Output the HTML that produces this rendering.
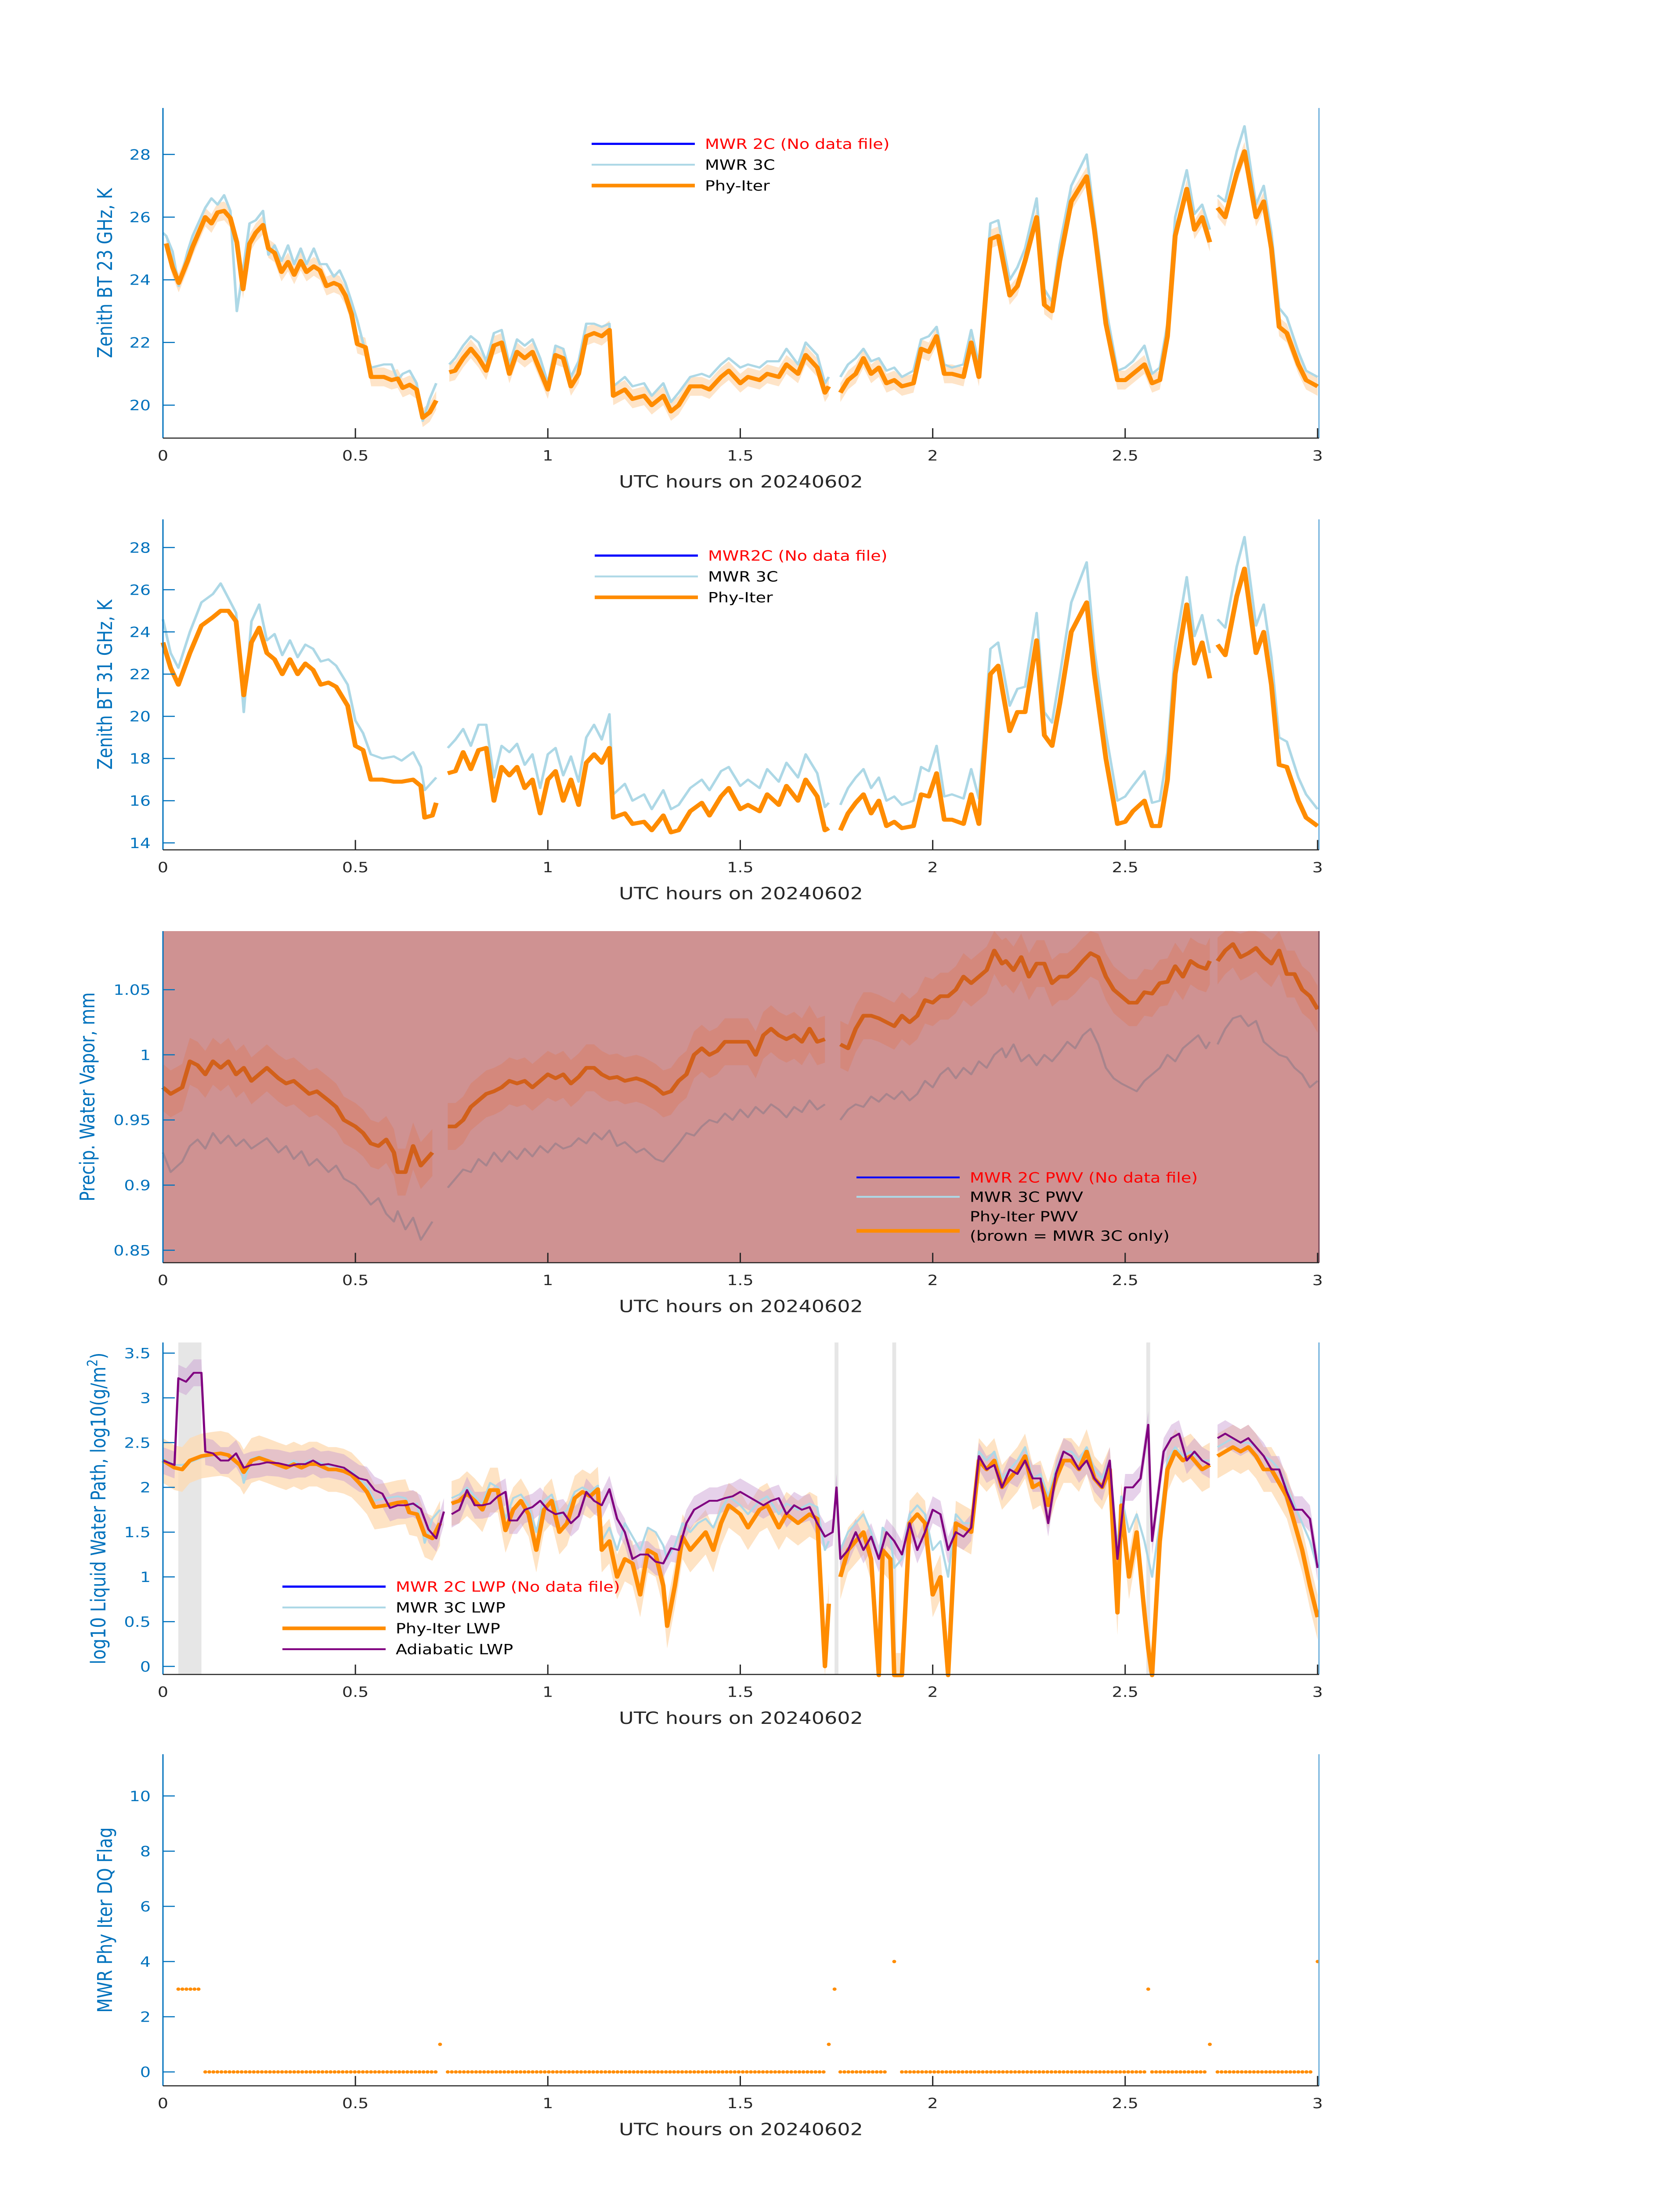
<!DOCTYPE html>
<html><head><meta charset="utf-8"><title>MWR zenith BT, PWV, LWP and DQ flag vs UTC hours, 20240602</title>
<style>html,body{margin:0;padding:0;background:#fff;overflow:hidden}svg{display:block;width:100vw;height:100vh}text{font-family:"DejaVu Sans","Liberation Sans",sans-serif}</style>
</head><body>
<svg id="fig" xmlns="http://www.w3.org/2000/svg" viewBox="0 0 3825 6000" preserveAspectRatio="none"></svg>
<script>
// ---------- Panel 1 : 23 GHz ----------
const t23 = [0.0,0.0085,0.025,0.041,0.064,0.077,0.11,0.126,0.142,0.159,0.175,0.192,0.208,0.225,0.241,0.26,0.274,0.29,0.308,0.325,0.341,0.358,0.373,0.392,0.408,0.425,0.444,0.459,0.474,0.49,0.505,0.526,0.541,0.574,0.594,0.61,0.623,0.641,0.659,0.675,0.693,0.71,0.725,0.744,0.759,0.78,0.8,0.82,0.84,0.86,0.88,0.9,0.92,0.94,0.96,0.98,1.0,1.02,1.04,1.06,1.08,1.1,1.12,1.14,1.16,1.17,1.2,1.22,1.25,1.27,1.3,1.32,1.34,1.37,1.4,1.42,1.45,1.47,1.5,1.52,1.55,1.57,1.6,1.62,1.65,1.67,1.7,1.72,1.73,1.745,1.76,1.78,1.8,1.82,1.84,1.86,1.88,1.9,1.92,1.95,1.97,1.99,2.01,2.03,2.05,2.08,2.1,2.12,2.15,2.17,2.2,2.22,2.24,2.27,2.29,2.31,2.33,2.36,2.4,2.42,2.45,2.48,2.5,2.52,2.55,2.57,2.59,2.61,2.63,2.66,2.68,2.7,2.72,2.73,2.74,2.76,2.79,2.81,2.84,2.86,2.88,2.9,2.92,2.95,2.97,3.0];
const phy23 = [null,25.16,24.4,23.9,24.6,25.05,26.0,25.8,26.15,26.2,25.97,25.2,23.7,25.15,25.5,25.75,25.0,24.86,24.25,24.57,24.16,24.6,24.25,24.43,24.3,23.8,23.9,23.82,23.5,22.9,21.95,21.85,20.9,20.9,20.8,20.85,20.55,20.65,20.5,19.6,19.77,20.15,null,21.05,21.1,21.5,21.8,21.5,21.1,21.9,22.0,21.0,21.7,21.5,21.7,21.1,20.5,21.6,21.5,20.6,21.0,22.2,22.3,22.2,22.4,20.3,20.5,20.2,20.3,20.0,20.3,19.8,20.0,20.6,20.6,20.5,20.9,21.1,20.7,20.9,20.8,21.0,20.9,21.3,21.0,21.6,21.2,20.4,20.6,null,20.4,20.8,21.0,21.5,21.0,21.2,20.7,20.8,20.6,20.7,21.8,21.7,22.2,21.0,21.0,20.9,22.0,20.9,25.3,25.4,23.5,23.8,24.6,26.0,23.2,23.0,24.6,26.5,27.3,25.6,22.6,20.8,20.8,21.0,21.3,20.7,20.8,22.2,25.4,26.9,25.6,26.0,25.2,null,26.3,26.0,27.4,28.1,26.0,26.5,25.0,22.5,22.3,21.3,20.8,20.6];
const mwr23 = [25.5,25.4,24.9,23.8,24.9,25.4,26.3,26.6,26.4,26.7,26.2,23.0,24.3,25.8,25.9,26.2,24.8,25.1,24.6,25.1,24.5,25.0,24.5,25.0,24.5,24.5,24.1,24.3,23.9,23.3,22.7,21.7,21.2,21.3,21.3,20.8,21.0,21.1,20.7,19.5,20.2,20.7,null,21.3,21.5,21.9,22.2,22.0,21.4,22.3,22.4,21.3,22.1,21.9,22.1,21.5,20.7,21.9,21.8,20.9,21.4,22.6,22.6,22.5,22.6,20.6,20.9,20.6,20.7,20.3,20.7,20.1,20.4,20.9,21.0,20.9,21.3,21.5,21.2,21.3,21.2,21.4,21.4,21.8,21.3,22.0,21.6,20.7,20.9,null,20.9,21.3,21.5,21.8,21.4,21.5,21.1,21.2,20.9,21.1,22.1,22.2,22.5,21.3,21.2,21.3,22.4,21.3,25.8,25.9,24.0,24.4,25.0,26.6,23.7,23.3,25.1,27.0,28.0,26.0,23.1,21.1,21.2,21.4,21.9,21.0,21.2,22.6,26.0,27.5,26.1,26.4,25.6,null,26.7,26.5,28.1,28.9,26.4,27.0,25.5,23.1,22.8,21.7,21.1,20.9];
const tick23 = [20,22,24,26,28];
// ---------- Panel 2 : 31 GHz ----------
const t31 = [0.0,0.02,0.04,0.07,0.1,0.13,0.15,0.17,0.19,0.21,0.23,0.25,0.27,0.29,0.31,0.33,0.35,0.37,0.39,0.41,0.43,0.45,0.48,0.5,0.52,0.54,0.57,0.6,0.62,0.65,0.67,0.68,0.7,0.71,0.725,0.74,0.76,0.78,0.8,0.82,0.84,0.86,0.88,0.9,0.92,0.94,0.96,0.98,1.0,1.02,1.04,1.06,1.08,1.1,1.12,1.14,1.16,1.17,1.2,1.22,1.25,1.27,1.3,1.32,1.34,1.37,1.4,1.42,1.45,1.47,1.5,1.52,1.55,1.57,1.6,1.62,1.65,1.67,1.7,1.72,1.73,1.745,1.76,1.78,1.8,1.82,1.84,1.86,1.88,1.9,1.92,1.95,1.97,1.99,2.01,2.03,2.05,2.08,2.1,2.12,2.15,2.17,2.2,2.22,2.24,2.27,2.29,2.31,2.33,2.36,2.4,2.42,2.45,2.48,2.5,2.52,2.55,2.57,2.59,2.61,2.63,2.66,2.68,2.7,2.72,2.73,2.74,2.76,2.79,2.81,2.84,2.86,2.88,2.9,2.92,2.95,2.97,3.0];
const phy31 = [23.5,22.3,21.5,23.0,24.3,24.7,25.0,25.0,24.5,21.0,23.5,24.2,23.0,22.7,22.0,22.7,22.0,22.5,22.2,21.5,21.6,21.4,20.5,18.6,18.4,17.0,17.0,16.9,16.9,17.0,16.7,15.2,15.3,15.9,null,17.3,17.4,18.3,17.5,18.4,18.5,16.0,17.6,17.2,17.6,16.6,17.0,15.4,17.0,17.4,16.0,17.0,15.8,17.8,18.2,17.8,18.5,15.2,15.4,14.9,15.0,14.6,15.3,14.5,14.6,15.5,15.9,15.3,16.2,16.6,15.6,15.8,15.5,16.3,15.8,16.7,16.0,17.0,16.2,14.6,14.7,null,14.6,15.4,15.9,16.3,15.4,16.0,14.8,15.0,14.7,14.8,16.3,16.2,17.3,15.1,15.1,14.9,16.3,14.9,22.0,22.4,19.3,20.2,20.2,23.6,19.1,18.6,20.6,24.0,25.4,22.0,18.0,14.9,15.0,15.5,16.0,14.8,14.8,17.0,22.0,25.3,22.5,23.5,21.8,null,23.4,22.9,25.7,27.0,23.0,24.0,21.5,17.7,17.6,16.0,15.2,14.8];
const mwr31 = [24.6,23.0,22.3,24.0,25.4,25.8,26.3,25.6,24.9,20.2,24.5,25.3,23.6,23.9,22.9,23.6,22.8,23.4,23.2,22.6,22.7,22.4,21.5,19.8,19.2,18.2,18.0,18.1,17.9,18.3,17.6,16.5,16.9,17.1,null,18.5,18.9,19.4,18.6,19.6,19.6,17.1,18.6,18.3,18.7,17.7,18.2,16.6,18.2,18.5,17.2,18.1,16.9,19.0,19.6,18.9,20.1,16.3,16.8,16.0,16.3,15.6,16.5,15.6,15.8,16.6,17.0,16.5,17.4,17.6,16.7,17.0,16.6,17.5,16.9,17.8,17.1,18.2,17.3,15.7,15.9,null,15.8,16.6,17.1,17.5,16.6,17.1,16.0,16.2,15.8,16.0,17.6,17.4,18.6,16.2,16.3,16.1,17.5,16.1,23.2,23.5,20.5,21.3,21.4,24.9,20.2,19.7,21.9,25.4,27.3,23.2,19.2,16.0,16.2,16.7,17.4,15.9,16.0,18.3,23.3,26.6,23.8,24.8,23.0,null,24.6,24.2,27.1,28.5,24.3,25.3,22.8,19.0,18.8,17.1,16.3,15.6];
const tick31 = [14,16,18,20,22,24,26,28];
// ---------- Panel 3 : PWV ----------
const tPwv = [0,0.02,0.05,0.07,0.09,0.11,0.13,0.15,0.17,0.19,0.21,0.23,0.25,0.27,0.3,0.32,0.34,0.36,0.38,0.4,0.43,0.45,0.47,0.5,0.52,0.54,0.56,0.58,0.6,0.61,0.63,0.65,0.67,0.7,0.72,0.74,0.76,0.78,0.8,0.82,0.84,0.86,0.88,0.9,0.92,0.94,0.96,0.98,1.0,1.02,1.04,1.06,1.08,1.1,1.12,1.14,1.16,1.18,1.2,1.23,1.25,1.28,1.3,1.32,1.34,1.36,1.38,1.4,1.42,1.44,1.46,1.48,1.5,1.52,1.54,1.56,1.58,1.6,1.62,1.64,1.66,1.68,1.7,1.72,1.74,1.76,1.78,1.8,1.82,1.84,1.86,1.88,1.9,1.92,1.94,1.96,1.98,2.0,2.02,2.04,2.06,2.08,2.1,2.12,2.14,2.16,2.18,2.19,2.21,2.23,2.25,2.27,2.29,2.31,2.33,2.35,2.37,2.39,2.41,2.43,2.45,2.47,2.49,2.51,2.53,2.55,2.57,2.59,2.61,2.63,2.65,2.67,2.69,2.71,2.72,2.73,2.74,2.76,2.78,2.8,2.82,2.84,2.86,2.88,2.9,2.92,2.94,2.96,2.98,3.0];
const phyPwv = [0.975,0.97,0.975,0.995,0.992,0.985,0.995,0.99,0.995,0.985,0.99,0.98,0.985,0.99,0.982,0.978,0.98,0.975,0.97,0.972,0.965,0.96,0.95,0.945,0.94,0.932,0.93,0.935,0.925,0.91,0.91,0.93,0.915,0.925,null,0.945,0.945,0.95,0.96,0.965,0.97,0.972,0.975,0.98,0.978,0.98,0.975,0.98,0.985,0.982,0.985,0.978,0.983,0.99,0.99,0.985,0.982,0.983,0.98,0.982,0.98,0.975,0.97,0.972,0.98,0.985,1.0,1.005,1.0,1.003,1.01,1.01,1.01,1.01,1.0,1.015,1.02,1.015,1.012,1.015,1.01,1.02,1.01,1.012,null,1.008,1.005,1.02,1.03,1.03,1.028,1.025,1.022,1.03,1.025,1.03,1.042,1.04,1.045,1.045,1.05,1.06,1.055,1.06,1.065,1.08,1.07,1.072,1.065,1.075,1.06,1.07,1.07,1.055,1.06,1.06,1.065,1.072,1.078,1.075,1.06,1.05,1.045,1.04,1.04,1.048,1.047,1.055,1.056,1.068,1.06,1.072,1.068,1.066,1.072,null,1.072,1.08,1.085,1.075,1.078,1.082,1.075,1.07,1.08,1.062,1.062,1.05,1.045,1.035];
const mwrPwv = [0.925,0.91,0.918,0.93,0.935,0.928,0.94,0.932,0.938,0.93,0.935,0.928,0.932,0.936,0.925,0.93,0.92,0.926,0.915,0.92,0.91,0.915,0.905,0.9,0.893,0.885,0.89,0.878,0.872,0.88,0.866,0.875,0.858,0.872,null,0.898,0.905,0.912,0.91,0.92,0.915,0.925,0.918,0.926,0.92,0.928,0.922,0.93,0.925,0.932,0.928,0.93,0.936,0.932,0.94,0.935,0.942,0.93,0.933,0.925,0.928,0.92,0.918,0.925,0.932,0.94,0.938,0.945,0.95,0.948,0.955,0.95,0.958,0.952,0.96,0.955,0.962,0.958,0.952,0.96,0.956,0.965,0.958,0.962,null,0.95,0.958,0.962,0.96,0.968,0.964,0.97,0.966,0.972,0.965,0.97,0.98,0.975,0.985,0.99,0.982,0.99,0.985,0.995,0.99,1.0,1.005,0.998,1.008,0.995,1.0,0.992,1.0,0.995,1.002,1.01,1.005,1.015,1.02,1.008,0.99,0.982,0.978,0.975,0.972,0.98,0.985,0.99,1.0,0.995,1.005,1.01,1.015,1.005,1.01,null,1.008,1.02,1.028,1.03,1.022,1.026,1.01,1.005,1.0,0.998,0.99,0.985,0.975,0.98];
const tickPwv = [0.85,0.9,0.95,1,1.05];
// ---------- Panel 4 : LWP ----------
const tAdi = [0,0.03,0.04,0.06,0.08,0.1,0.11,0.13,0.15,0.17,0.19,0.21,0.23,0.25,0.27,0.3,0.33,0.35,0.37,0.39,0.41,0.43,0.45,0.47,0.49,0.51,0.53,0.55,0.57,0.59,0.61,0.63,0.65,0.67,0.69,0.71,0.73,0.74,0.75,0.77,0.79,0.81,0.83,0.85,0.87,0.89,0.9,0.92,0.94,0.96,0.98,1.0,1.02,1.04,1.06,1.08,1.1,1.12,1.14,1.16,1.18,1.2,1.22,1.24,1.26,1.28,1.3,1.32,1.34,1.36,1.38,1.4,1.42,1.44,1.46,1.48,1.5,1.52,1.54,1.56,1.58,1.6,1.62,1.64,1.66,1.68,1.7,1.72,1.74,1.75,1.76,1.78,1.8,1.82,1.84,1.86,1.88,1.9,1.92,1.94,1.96,1.98,2.0,2.02,2.04,2.06,2.08,2.1,2.12,2.14,2.16,2.18,2.2,2.22,2.24,2.26,2.28,2.3,2.32,2.34,2.36,2.38,2.4,2.42,2.44,2.46,2.48,2.5,2.52,2.54,2.56,2.57,2.6,2.62,2.64,2.66,2.68,2.7,2.72,2.73,2.74,2.76,2.78,2.8,2.82,2.84,2.86,2.88,2.9,2.92,2.94,2.96,2.98,3.0];
const adiLwp = [2.3,2.25,3.22,3.18,3.28,3.28,2.4,2.38,2.3,2.3,2.38,2.22,2.25,2.26,2.28,2.27,2.24,2.26,2.26,2.3,2.25,2.26,2.24,2.22,2.16,2.1,2.08,1.97,1.93,1.77,1.8,1.8,1.82,1.76,1.53,1.43,1.73,null,1.7,1.75,1.97,1.8,1.8,1.82,1.9,1.95,1.63,1.63,1.75,1.78,1.85,1.75,1.7,1.72,1.6,1.68,1.95,1.85,1.8,1.98,1.65,1.5,1.2,1.25,1.25,1.17,1.15,1.32,1.3,1.6,1.75,1.8,1.85,1.85,1.88,1.9,1.95,1.9,1.85,1.8,1.85,1.88,1.7,1.8,1.75,1.78,1.6,1.45,1.5,2.0,1.2,1.3,1.5,1.3,1.45,1.2,1.5,1.4,1.25,1.6,1.3,1.5,1.75,1.7,1.3,1.5,1.45,1.55,2.35,2.2,2.25,2.0,2.2,2.15,2.3,2.1,2.1,1.6,2.15,2.4,2.35,2.2,2.3,2.1,2.0,2.3,1.2,2.0,2.0,2.1,2.7,1.4,2.4,2.55,2.6,2.3,2.4,2.3,2.25,null,2.55,2.6,2.55,2.5,2.55,2.45,2.35,2.2,2.2,1.95,1.75,1.75,1.65,1.1];
const tPhyL = [0,0.03,0.05,0.07,0.1,0.13,0.15,0.17,0.2,0.21,0.23,0.25,0.27,0.3,0.32,0.34,0.36,0.38,0.4,0.43,0.45,0.47,0.49,0.51,0.53,0.55,0.58,0.61,0.63,0.64,0.66,0.68,0.7,0.72,0.735,0.75,0.77,0.79,0.81,0.83,0.85,0.87,0.89,0.91,0.93,0.95,0.97,0.99,1.01,1.03,1.05,1.07,1.09,1.11,1.13,1.14,1.16,1.18,1.2,1.22,1.24,1.26,1.28,1.3,1.31,1.33,1.35,1.37,1.39,1.41,1.43,1.45,1.47,1.5,1.52,1.55,1.57,1.6,1.62,1.65,1.68,1.7,1.72,1.73,1.745,1.76,1.78,1.8,1.82,1.84,1.86,1.87,1.89,1.9,1.92,1.94,1.96,1.98,2.0,2.02,2.04,2.06,2.08,2.1,2.12,2.14,2.16,2.18,2.2,2.22,2.24,2.26,2.28,2.3,2.32,2.34,2.36,2.38,2.4,2.42,2.44,2.46,2.48,2.49,2.51,2.53,2.55,2.56,2.57,2.59,2.61,2.63,2.65,2.67,2.7,2.72,2.73,2.74,2.76,2.78,2.8,2.82,2.84,2.86,2.88,2.9,2.92,2.94,2.96,2.98,3.0];
const phyLwp = [2.3,2.22,2.2,2.3,2.35,2.37,2.38,2.36,2.25,2.17,2.3,2.33,2.3,2.25,2.22,2.26,2.22,2.26,2.26,2.2,2.2,2.18,2.14,2.05,1.95,1.78,1.8,1.83,1.84,1.72,1.7,1.47,1.43,1.6,null,1.82,1.85,1.93,1.85,1.75,1.97,1.97,1.52,1.75,1.85,1.7,1.3,1.75,1.85,1.5,1.6,1.88,1.95,1.9,1.98,1.3,1.4,1.0,1.2,1.15,0.8,1.3,1.25,0.9,0.45,0.9,1.45,1.3,1.4,1.5,1.3,1.6,1.8,1.7,1.55,1.75,1.8,1.55,1.7,1.6,1.7,1.65,0.0,0.7,null,1.0,1.3,1.4,1.5,1.2,-0.1,1.3,1.2,-0.1,-0.1,1.6,1.7,1.6,0.8,1.0,-0.1,1.6,1.55,1.5,2.3,2.2,2.3,2.0,2.1,2.2,2.35,2.0,2.05,1.8,2.1,2.3,2.3,2.2,2.4,2.1,2.0,2.2,0.6,1.8,1.0,1.5,0.6,0.2,-0.1,1.4,2.2,2.4,2.3,2.35,2.2,2.25,null,2.35,2.4,2.45,2.4,2.45,2.35,2.2,2.2,2.05,1.9,1.6,1.3,0.9,0.55];
const mwrLwp = [2.32,2.25,2.25,2.28,2.33,2.36,2.37,2.36,2.26,2.05,2.32,2.35,2.3,2.27,2.24,2.3,2.25,2.3,2.29,2.24,2.24,2.2,2.18,2.1,2.02,1.85,1.88,1.9,1.88,1.8,1.82,1.38,1.65,1.75,null,1.88,1.92,2.0,1.9,1.82,2.05,2.0,1.65,1.88,1.92,1.8,1.5,1.85,1.92,1.68,1.75,1.95,2.0,1.95,2.02,1.4,1.55,1.3,1.6,1.45,1.3,1.55,1.5,1.35,1.2,1.35,1.6,1.5,1.6,1.65,1.55,1.75,1.9,1.8,1.7,1.85,1.9,1.7,1.82,1.75,1.82,1.78,1.3,1.4,null,1.3,1.5,1.6,1.7,1.5,1.2,1.55,1.45,1.1,1.2,1.7,1.8,1.7,1.3,1.4,1.0,1.7,1.6,1.6,2.4,2.3,2.4,2.1,2.2,2.3,2.45,2.1,2.15,1.9,2.2,2.4,2.4,2.3,2.45,2.2,2.1,2.3,1.3,1.9,1.5,1.7,1.4,1.2,1.0,1.6,2.3,2.45,2.35,2.4,2.3,2.3,null,2.45,2.5,2.55,2.5,2.5,2.45,2.35,2.3,2.2,2.0,1.8,1.6,1.4,1.1];
const grayStart = [0.04,1.745,1.895,2.555];
const grayEnd = [0.1,1.755,1.905,2.565];
const tickLwp = [0,0.5,1,1.5,2,2.5,3,3.5];
// ---------- Panel 5 : DQ flag ----------
const flagStart = [0.04,0.11,0.72,0.74,1.73,1.745,1.76,1.9,1.92,2.56,2.57,2.72,2.74,3.0];
const flagEnd   = [0.1,0.71,0.72,1.72,1.73,1.745,1.88,1.9,2.55,2.56,2.71,2.72,2.99,3.0];
const flagValue = [3,0,1,0,1,3,0,4,0,3,0,1,0,4];
const tickFlag = [0,2,4,6,8,10];
const xTicks = [0,0.5,1,1.5,2,2.5,3];
const xTickLabels = ['0','0.5','1','1.5','2','2.5','3'];

const NS='http://www.w3.org/2000/svg';
const svg=document.getElementById('fig');
function mk(tag,attrs,parent){const e=document.createElementNS(NS,tag);for(const k in attrs)e.setAttribute(k,attrs[k]);(parent||svg).appendChild(e);return e;}
const X0=371, XPH=876.3;
function xs(t){return X0+t*XPH;}
function yScale(v1,y1,v2,y2){return v=>y1+(v-v1)*(y2-y1)/(v2-v1);}
function pathFrom(ts,vs,ys,lo,hi){let d='',pen=false;for(let i=0;i<ts.length;i++){const v=vs[i];if(v===null||v===undefined){pen=false;continue;}let vv=Math.max(lo,Math.min(hi,v));d+=(pen?'L':'M')+xs(ts[i]).toFixed(1)+','+ys(vv).toFixed(1);pen=true;}return d;}
function bandFrom(ts,vs,ys,w,lo,hi){let segs=[],cur=[];for(let i=0;i<ts.length;i++){if(vs[i]===null){if(cur.length)segs.push(cur);cur=[];}else cur.push(i);}if(cur.length)segs.push(cur);let d='';segs.forEach(s=>{let up=s.map(i=>xs(ts[i]).toFixed(1)+','+ys(Math.min(hi,vs[i]+w)).toFixed(1));let dn=s.slice().reverse().map(i=>xs(ts[i]).toFixed(1)+','+ys(Math.max(lo,vs[i]-w)).toFixed(1));d+='M'+up.join('L')+'L'+dn.join('L')+'Z';});return d;}

function axes(p){
  const g=mk('g',{});
  
  
  p.yt.forEach(v=>{const y=p.ys(v);
    const l=mk('line',{x1:X0,x2:X0+27,y1:y,y2:y,stroke:'#0072BD','stroke-width':3},g);
    
    const tx=mk('text',{x:X0-28,y:y+14,'text-anchor':'end','font-size':38,fill:'#0072BD'},g);
    
    tx.textContent=(p.fmt?p.fmt(v):String(v));});
  xTicks.forEach((t,i)=>{const x=xs(t);
    const l=mk('line',{x1:x,x2:x,y1:p.bot,y2:p.bot-27,stroke:'#262626','stroke-width':3},g);
    
    const tx=mk('text',{x:x,y:p.bot+61,'text-anchor':'middle','font-size':38,fill:'#262626'},g);
    
    tx.textContent=xTickLabels[i];});
  const sp=mk('line',{x1:X0,x2:X0,y1:p.top,y2:p.bot,stroke:'#0072BD','stroke-width':3},g);
  
  const rs=mk('line',{x1:3003,x2:3003,y1:p.top,y2:p.bot,stroke:p.rc||'#6fb0dc','stroke-width':3},g);
  
  const bs=mk('line',{x1:X0,x2:3003,y1:p.bot,y2:p.bot,stroke:'#262626','stroke-width':3},g);
  
  const xl=mk('text',{x:1687,y:p.bot+135,'text-anchor':'middle','font-size':46,fill:'#262626'},g);
  
  xl.textContent='UTC hours on 20240602';
  const cy=(p.top+p.bot)/2;
  const yl=mk('text',{x:p.ylx,y:cy,'text-anchor':'middle','font-size':46,fill:'#0072BD',transform:'rotate(-90 '+p.ylx+' '+cy+')'},g);
  
  if(p.ylhtml){yl.innerHTML=p.ylhtml;}else yl.textContent=p.ylabel;
}
function legend(x,y0,dy,items,fs){
  const g=mk('g',{});
  
  items.forEach((it,i)=>{const y=y0+i*dy+(it.off||0);
    const e=mk('g',{},g);
    
    if(it.c)mk('line',{x1:x,x2:x+235,y1:y+(it.loff||0),y2:y+(it.loff||0),stroke:it.c,'stroke-width':it.w},e);
    const tx=mk('text',{x:x+258,y:y+14,'font-size':fs,fill:it.tc||'#000'},e);
    tx.textContent=it.t;});
}
function line(d,color,w,name,op){const p=mk('path',{d:d,fill:'none',stroke:color,'stroke-width':w,'stroke-linejoin':'round','stroke-opacity':op||1});return p;}
function band(d,color,op,name){const p=mk('path',{d:d,fill:color,'fill-opacity':op,stroke:'none'});return p;}

// Panel 1
{const ys=yScale(28,422,20,1107);const lo=18.9,hi=29.5;
 band(bandFrom(t23,phy23,ys,0.3,lo,hi),'#fdd9b0',0.7,'phy-iter-uncertainty-band');
 line(pathFrom(t23,mwr23,ys,lo,hi),'#add8e6',6,'mwr3c-23ghz-line');
 line(pathFrom(t23,phy23,ys,lo,hi),'#ff8c00',11,'phy-iter-23ghz-line');
 axes({name:'bt23',top:295,bot:1197,ys:ys,yt:tick23,ylx:255,ylabel:'Zenith BT 23 GHz, K'});
 legend(1347,393,57,[{c:'#0000ff',w:6,t:'MWR 2C (No data file)',tc:'#ff0000'},{c:'#add8e6',w:5,t:'MWR 3C'},{c:'#ff8c00',w:10,t:'Phy-Iter'}],38);}
// Panel 2
{const ys=yScale(28,1496,14,2303);const lo=13.7,hi=29.3;
 line(pathFrom(t31,mwr31,ys,lo,hi),'#add8e6',6,'mwr3c-31ghz-line');
 line(pathFrom(t31,phy31,ys,lo,hi),'#ff8c00',11,'phy-iter-31ghz-line');
 axes({name:'bt31',top:1419,bot:2322,ys:ys,yt:tick31,ylx:255,ylabel:'Zenith BT 31 GHz, K'});
 legend(1354,1518,57,[{c:'#0000ff',w:6,t:'MWR2C (No data file)',tc:'#ff0000'},{c:'#add8e6',w:5,t:'MWR 3C'},{c:'#ff8c00',w:10,t:'Phy-Iter'}],38);}
// Panel 3
{const ys=yScale(1.05,2704,0.85,3416);const lo=0.84,hi=1.095;
 const bg=mk('rect',{x:X0,y:2544,width:3003-X0,height:3450-2544,fill:'#cf9292'});
 
 band(bandFrom(tPwv,phyPwv,ys,0.018,lo,hi),'#d9806a',0.55,'phy-iter-pwv-band');
 line(pathFrom(tPwv,mwrPwv,ys,lo,hi),'#a8848c',5,'mwr3c-pwv-line');
 line(pathFrom(tPwv,phyPwv,ys,lo,hi),'#d2601a',10,'phy-iter-pwv-line');
 axes({name:'pwv',top:2544,bot:3450,ys:ys,yt:tickPwv,ylx:215,ylabel:'Precip. Water Vapor, mm',rc:'#7a4a5a',fmt:v=>v===1?'1':v===0.9?'0.9':String(v)});
 legend(1950,3217,53,[{c:'#0000ff',w:5,t:'MWR 2C PWV (No data file)',tc:'#ff0000'},{c:'#add8e6',w:5,t:'MWR 3C PWV'},{c:'#ff8c00',w:10,t:'Phy-Iter PWV',loff:40},{t:'(brown = MWR 3C only)'}],38);}
// Panel 4
{const ys=yScale(3.5,3697,0,4553);const lo=-0.11,hi=3.6;
 grayStart.forEach((s,i)=>{const r=mk('rect',{x:xs(s),y:3668,width:Math.max(8,xs(grayEnd[i])-xs(s)),height:4575-3668,fill:'#e6e6e6'});});
 band(bandFrom(tPhyL,phyLwp,ys,0.25,lo,hi),'#fdd9b0',0.75,'phy-iter-lwp-band');
 band(bandFrom(tAdi,adiLwp,ys,0.15,lo,hi),'#c89ad0',0.45,'adiabatic-lwp-band');
 line(pathFrom(tPhyL,mwrLwp,ys,lo,hi),'#add8e6',5,'mwr3c-lwp-line');
 line(pathFrom(tPhyL,phyLwp,ys,lo,hi),'#ff8c00',10,'phy-iter-lwp-line');
 line(pathFrom(tAdi,adiLwp,ys,lo,hi),'#800080',5,'adiabatic-lwp-line');
 axes({name:'lwp',top:3668,bot:4575,ys:ys,yt:tickLwp,ylx:240,ylhtml:'log10 Liquid Water Path, log10(g/m<tspan baseline-shift="super" font-size="32">2</tspan>)'});
 legend(643,4335,57,[{c:'#0000ff',w:6,t:'MWR 2C LWP (No data file)',tc:'#ff0000'},{c:'#add8e6',w:5,t:'MWR 3C LWP'},{c:'#ff8c00',w:10,t:'Phy-Iter LWP'},{c:'#800080',w:5,t:'Adiabatic LWP'}],38);}
// Panel 5
{const ys=yScale(10,4907,0,5661);
 const g=mk('g',{});
 flagStart.forEach((s,i)=>{for(let t=s;t<=flagEnd[i]+1e-6;t+=0.0105){const c=mk('circle',{cx:xs(t),cy:ys(flagValue[i]),r:4.5,fill:'#ff8c00'},g);}});
 axes({name:'flag',top:4793,bot:5699,ys:ys,yt:tickFlag,ylx:255,ylabel:'MWR Phy Iter DQ Flag'});}
</script>
</body></html>
